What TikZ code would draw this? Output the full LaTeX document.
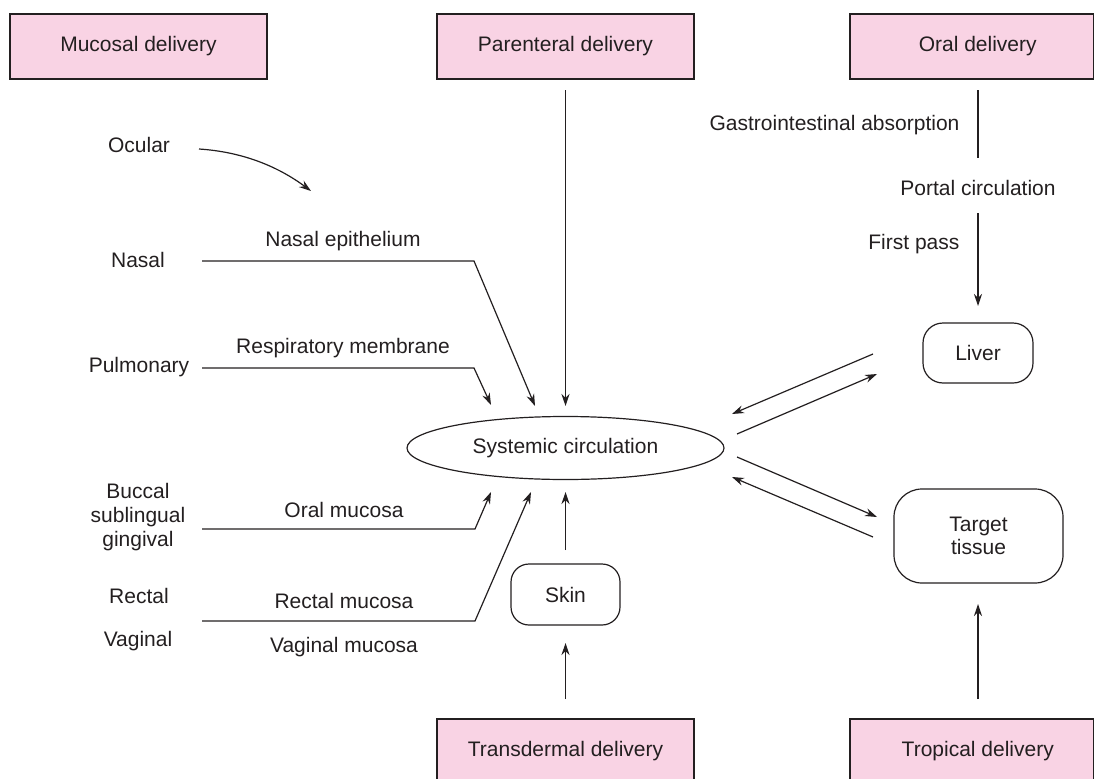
\documentclass[tikz,border=0pt]{standalone}
\usepackage{fontspec}
\setmainfont{Liberation Sans}
\usetikzlibrary{arrows.meta,shapes.geometric}
\definecolor{boxpink}{HTML}{F9D3E4}
\definecolor{ink}{HTML}{231F20}
\begin{document}
\begin{tikzpicture}[x=1pt,y=-1pt, line width=1.2pt, color=ink,
  every node/.style={font=\fontsize{21}{24}\selectfont, inner sep=0pt, text=ink},
  delivbox/.style={draw=ink, fill=boxpink, minimum width=257pt, minimum height=65pt, line width=1.2pt},
  rbox/.style={draw=ink, line width=1.2pt},
  arr/.style={-{Stealth[length=12pt,width=8pt,inset=4pt]}}]
\useasboundingbox (0,0) rectangle (1095,779);
\clip (0,0) rectangle (1095,779);

% delivery boxes
\node[delivbox] (mucosal) at (138.5,46.5) {Mucosal delivery};
\node[delivbox] (parenteral) at (565.5,46.5) {Parenteral delivery};
\node[delivbox, minimum width=243.5pt] (oral) at (971.75,46.5) {\hspace*{12pt}Oral delivery};
\node[delivbox] (transdermal) at (565.5,751.5) {Transdermal delivery};
\node[delivbox, minimum width=243.5pt] (tropical) at (971.75,751.5) {\hspace*{12pt}Tropical delivery};

% central nodes
\node[draw=ink, ellipse, minimum width=317pt, minimum height=63pt] (sys) at (565.5,448) {Systemic circulation};
\node[rbox, minimum width=110pt, minimum height=60pt, rounded corners=20pt] (liver) at (978,353) {Liver};
\node[rbox, minimum width=169pt, minimum height=94pt, rounded corners=28pt, align=center] (target) at (978.5,536) {Target\\[-1pt]tissue};
\node[rbox, minimum width=109pt, minimum height=61pt, rounded corners=18pt] (skin) at (565.5,594.5) {Skin};

% left labels
\node (ocular) at (139,145) {Ocular};
\node (nasal) at (138,260) {Nasal};
\node (pulm) at (139,367) {Pulmonary};
\node[align=center] (buccal) at (138,517) {Buccal\\sublingual\\gingival};
\node (rectal) at (139,596) {Rectal};
\node (vaginal) at (138,641) {Vaginal};
\node (nasalepi) at (343,241) {Nasal epithelium};
\node (resp) at (343,348) {Respiratory membrane};
\node (oralmuc) at (344,510) {Oral mucosa};
\node (rectmuc) at (344,601) {Rectal mucosa};
\node (vagmuc) at (344,647) {Vaginal mucosa};

% oral route labels
\node[anchor=east] (gi) at (960,125) {Gastrointestinal absorption};
\node (portal) at (978,188) {Portal circulation};
\node[anchor=east] (firstpass) at (960,244) {First pass};

% coordinates
\coordinate (ocS) at (199,149);
\coordinate (ocE) at (311,191);
\coordinate (naS) at (202,261);
\coordinate (naB) at (474,261);
\coordinate (naE) at (535,406);
\coordinate (puS) at (202,368);
\coordinate (puB) at (474,368);
\coordinate (puE) at (491,405);
\coordinate (omS) at (202,529);
\coordinate (omB) at (475,529);
\coordinate (omE) at (491,492);
\coordinate (reS) at (202,621);
\coordinate (reB) at (475,621);
\coordinate (reE) at (531,492);
\coordinate (paS) at (565.5,90);
\coordinate (paE) at (565.5,406);
\coordinate (orS) at (978,90);
\coordinate (orE) at (978,158);
\coordinate (fpS) at (978,213);
\coordinate (fpE) at (978,306);
\coordinate (l1S) at (873,354);
\coordinate (l1E) at (732,414);
\coordinate (l2S) at (737,434);
\coordinate (l2E) at (877,374);
\coordinate (t1S) at (737,457);
\coordinate (t1E) at (877,517);
\coordinate (t2S) at (873,537);
\coordinate (t2E) at (732,477);
\coordinate (skS) at (565.5,550);
\coordinate (skE) at (565.5,492);
\coordinate (tdS) at (565.5,699);
\coordinate (tdE) at (565.5,643);
\coordinate (trS) at (978,699);
\coordinate (trE) at (978,604);

% connectors
\draw[arr] (ocS) .. controls (245,152) and (280,168) .. (ocE);
\draw[arr] (naS) -- (naB) -- (naE);
\draw[arr] (puS) -- (puB) -- (puE);
\draw[arr] (omS) -- (omB) -- (omE);
\draw[arr] (reS) -- (reB) -- (reE);
\draw[arr] (paS) -- (paE);
\draw (orS) -- (orE);
\draw[arr] (fpS) -- (fpE);
\draw[arr] (l1S) -- (l1E);
\draw[arr] (l2S) -- (l2E);
\draw[arr] (t1S) -- (t1E);
\draw[arr] (t2S) -- (t2E);
\draw[arr] (skS) -- (skE);
\draw[arr] (tdS) -- (tdE);
\draw[arr] (trS) -- (trE);
\end{tikzpicture}
\end{document}
